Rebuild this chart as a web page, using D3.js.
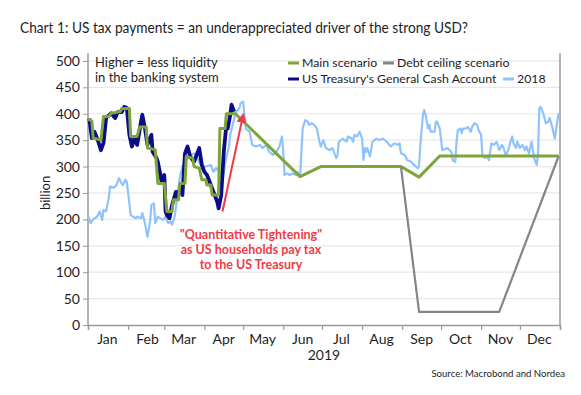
<!DOCTYPE html>
<html>
<head>
<meta charset="utf-8">
<script src="https://cdn.jsdelivr.net/npm/d3@7"></script>
<style>
  body { margin: 0; background: #fff; }
  svg { display: block; font-family: Lato, "Open Sans", sans-serif; }
</style>
</head>
<body>
<div id="chart"></div>
<script>
// values (billion USD)
const yTicks = [0, 50, 100, 150, 200, 250, 300, 350, 400, 450, 500];
const monthLabels = ['Jan', 'Feb', 'Mar', 'Apr', 'May', 'Jun', 'Jul', 'Aug', 'Sep', 'Oct', 'Nov', 'Dec'];

const treasury = [
    ['2019-01-02', 391], ['2019-01-04', 354], ['2019-01-06', 366], ['2019-01-09', 347], ['2019-01-11', 331],
    ['2019-01-13', 345], ['2019-01-15', 392], ['2019-01-19', 401], ['2019-01-22', 392], ['2019-01-24', 403],
    ['2019-01-27', 403], ['2019-01-29', 413], ['2019-01-31', 411], ['2019-02-02', 360], ['2019-02-04', 338],
    ['2019-02-06', 354], ['2019-02-08', 341], ['2019-02-11', 385], ['2019-02-12', 398], ['2019-02-14', 373],
    ['2019-02-16', 341], ['2019-02-19', 360], ['2019-02-20', 328], ['2019-02-23', 316], ['2019-02-24', 309],
    ['2019-02-27', 271], ['2019-03-01', 284], ['2019-03-02', 215], ['2019-03-03', 208], ['2019-03-05', 202],
    ['2019-03-07', 227], ['2019-03-10', 252], ['2019-03-11', 240], ['2019-03-14', 265], ['2019-03-15', 246],
    ['2019-03-17', 325], ['2019-03-19', 338], ['2019-03-21', 319], ['2019-03-24', 309], ['2019-03-26', 322],
    ['2019-03-28', 335], ['2019-03-30', 303], ['2019-04-01', 290], ['2019-04-03', 284], ['2019-04-06', 265],
    ['2019-04-08', 252], ['2019-04-11', 233], ['2019-04-12', 221], ['2019-04-14', 246], ['2019-04-16', 328],
    ['2019-04-18', 379], ['2019-04-19', 372], ['2019-04-21', 398], ['2019-04-22', 417], ['2019-04-24', 404]
];

const mainScenario = [
    ['2019-01-01', 390], ['2019-01-04', 386], ['2019-01-05', 354], ['2019-01-11', 350], ['2019-01-13', 395],
    ['2019-01-17', 395], ['2019-01-19', 401], ['2019-01-26', 404], ['2019-01-27', 410], ['2019-02-02', 410],
    ['2019-02-03', 357], ['2019-02-08', 357], ['2019-02-10', 375], ['2019-02-15', 375], ['2019-02-16', 335],
    ['2019-02-22', 332], ['2019-02-24', 268], ['2019-03-01', 268], ['2019-03-03', 215], ['2019-03-07', 215],
    ['2019-03-08', 237], ['2019-03-12', 237], ['2019-03-13', 268], ['2019-03-17', 268], ['2019-03-18', 319],
    ['2019-03-23', 316], ['2019-03-24', 300], ['2019-03-28', 297], ['2019-03-30', 275], ['2019-04-02', 275],
    ['2019-04-03', 265], ['2019-04-06', 265], ['2019-04-07', 246], ['2019-04-12', 246], ['2019-04-13', 372],
    ['2019-04-17', 372], ['2019-04-18', 400], ['2019-04-25', 400], ['2019-06-14', 281], ['2019-06-30', 300],
    ['2019-08-31', 300], ['2019-09-14', 280], ['2019-09-30', 320], ['2019-12-31', 320]
];

const debtCeiling = [
    ['2019-08-31', 300], ['2019-09-14', 25], ['2019-11-15', 25], ['2019-12-31', 320]
];

const year2018 = [
    ['2019-01-01', 208], ['2019-01-03', 193], ['2019-01-05', 200], ['2019-01-08', 205], ['2019-01-10', 215],
    ['2019-01-12', 199], ['2019-01-13', 218], ['2019-01-15', 215], ['2019-01-17', 240], ['2019-01-18', 262],
    ['2019-01-21', 260], ['2019-01-23', 265], ['2019-01-25', 278], ['2019-01-27', 268], ['2019-01-28', 265],
    ['2019-01-30', 275], ['2019-01-31', 271], ['2019-02-02', 230], ['2019-02-03', 208], ['2019-02-05', 205],
    ['2019-02-07', 202], ['2019-02-08', 205], ['2019-02-11', 202], ['2019-02-12', 212], ['2019-02-14', 193],
    ['2019-02-16', 167], ['2019-02-18', 196], ['2019-02-19', 227], ['2019-02-21', 230], ['2019-02-22', 193],
    ['2019-02-24', 205], ['2019-02-26', 202], ['2019-02-28', 199], ['2019-03-02', 205], ['2019-03-04', 193],
    ['2019-03-06', 196], ['2019-03-07', 190], ['2019-03-09', 205], ['2019-03-11', 240], ['2019-03-13', 280],
    ['2019-03-15', 300], ['2019-03-17', 310], ['2019-03-20', 319], ['2019-03-24', 325], ['2019-03-26', 319],
    ['2019-03-29', 303], ['2019-04-02', 300], ['2019-04-06', 303], ['2019-04-08', 290], ['2019-04-10', 297],
    ['2019-04-13', 290], ['2019-04-15', 271], ['2019-04-17', 306], ['2019-04-20', 338], ['2019-04-21', 360],
    ['2019-04-25', 401], ['2019-04-28', 410], ['2019-04-29', 420], ['2019-05-01', 423], ['2019-05-02', 398],
    ['2019-05-03', 372], ['2019-05-06', 366], ['2019-05-08', 341], ['2019-05-11', 338], ['2019-05-14', 341],
    ['2019-05-16', 335], ['2019-05-19', 341], ['2019-05-21', 328], ['2019-05-24', 322], ['2019-05-26', 325],
    ['2019-05-29', 338], ['2019-05-31', 357], ['2019-06-01', 328], ['2019-06-02', 284], ['2019-06-04', 287],
    ['2019-06-06', 284], ['2019-06-08', 287], ['2019-06-11', 284], ['2019-06-12', 290], ['2019-06-14', 280],
    ['2019-06-16', 372], ['2019-06-18', 388], ['2019-06-20', 385], ['2019-06-21', 379], ['2019-06-23', 382],
    ['2019-06-25', 379], ['2019-06-27', 372], ['2019-06-29', 347], ['2019-06-30', 338], ['2019-07-02', 350],
    ['2019-07-04', 335], ['2019-07-07', 331], ['2019-07-09', 335], ['2019-07-12', 316], ['2019-07-13', 322],
    ['2019-07-14', 347], ['2019-07-17', 353], ['2019-07-20', 347], ['2019-07-21', 357], ['2019-07-24', 353],
    ['2019-07-25', 347], ['2019-07-26', 360], ['2019-07-28', 357], ['2019-07-30', 366], ['2019-08-01', 353],
    ['2019-08-02', 312], ['2019-08-03', 335], ['2019-08-04', 328], ['2019-08-05', 335], ['2019-08-07', 319],
    ['2019-08-09', 347], ['2019-08-12', 353], ['2019-08-14', 350], ['2019-08-17', 353], ['2019-08-20', 347],
    ['2019-08-23', 338], ['2019-08-26', 344], ['2019-08-29', 341], ['2019-08-30', 344], ['2019-08-31', 325],
    ['2019-09-03', 322], ['2019-09-05', 312], ['2019-09-08', 309], ['2019-09-10', 303], ['2019-09-13', 297],
    ['2019-09-14', 300], ['2019-09-15', 341], ['2019-09-17', 398], ['2019-09-18', 407], ['2019-09-19', 398],
    ['2019-09-21', 372], ['2019-09-22', 379], ['2019-09-23', 366], ['2019-09-26', 366], ['2019-09-27', 385],
    ['2019-09-28', 385], ['2019-09-30', 372], ['2019-10-02', 331], ['2019-10-06', 335], ['2019-10-09', 328],
    ['2019-10-10', 312], ['2019-10-12', 309], ['2019-10-13', 347], ['2019-10-14', 369], ['2019-10-16', 372],
    ['2019-10-17', 363], ['2019-10-18', 372], ['2019-10-20', 372], ['2019-10-22', 375], ['2019-10-24', 366],
    ['2019-10-25', 375], ['2019-10-27', 382], ['2019-10-29', 379], ['2019-10-30', 369], ['2019-11-01', 360],
    ['2019-11-02', 322], ['2019-11-04', 316], ['2019-11-06', 319], ['2019-11-07', 312], ['2019-11-09', 344],
    ['2019-11-11', 341], ['2019-11-13', 347], ['2019-11-15', 331], ['2019-11-17', 341], ['2019-11-18', 338],
    ['2019-11-20', 322], ['2019-11-22', 331], ['2019-11-23', 341], ['2019-11-25', 357], ['2019-11-26', 344],
    ['2019-11-28', 335], ['2019-11-29', 347], ['2019-12-01', 335], ['2019-12-03', 341], ['2019-12-05', 331],
    ['2019-12-06', 338], ['2019-12-08', 325], ['2019-12-10', 347], ['2019-12-12', 316], ['2019-12-14', 303],
    ['2019-12-15', 322], ['2019-12-16', 410], ['2019-12-17', 413], ['2019-12-19', 401], ['2019-12-21', 382],
    ['2019-12-23', 385], ['2019-12-24', 392], ['2019-12-26', 375], ['2019-12-28', 353], ['2019-12-30', 388],
    ['2019-12-31', 401]
];

// arrow for the tax-payment annotation: [date, value] start and end
const arrowFrom = ['2019-04-15', 215];
const arrowTo = ['2019-05-01', 398];

const colors = {
    main: '#7da53a',
    debt: '#858585',
    treasury: '#0c0c8a',
    y2018: '#8fc3fc',
    red: '#ef3b47',
    grid: '#e8e8e8',
    axis: '#9a9a9a',
    text: '#1e1e1e'
};

const width = 581, height = 395;
const margin = { top: 53, right: 21, bottom: 70, left: 88 };
const parse = d3.timeParse('%Y-%m-%d');

const svg = d3.select('#chart').append('svg')
    .attr('width', width)
    .attr('height', height);

const x = d3.scaleTime()
    .domain([new Date(2019, 0, 1), new Date(2020, 0, 1)])
    .range([margin.left, width - margin.right]);

const y = d3.scaleLinear()
    .domain([0, 515])
    .range([height - margin.bottom, margin.top]);

// title (the original face is narrower than Lato, so fit it to its width)
svg.append('text')
    .attr('x', 20).attr('y', 33)
    .attr('font-size', 16)
    .attr('textLength', 448)
    .attr('lengthAdjust', 'spacingAndGlyphs')
    .attr('fill', colors.text)
    .text('Chart 1: US tax payments = an underappreciated driver of the strong USD?');

// gridlines
svg.append('g')
    .selectAll('line')
    .data(yTicks.filter(d => d > 0))
    .enter().append('line')
    .attr('x1', margin.left).attr('x2', width - margin.right)
    .attr('y1', d => y(d)).attr('y2', d => y(d))
    .attr('stroke', colors.grid)
    .attr('stroke-width', 1.2);

// y axis
const yAxis = svg.append('g')
    .attr('transform', `translate(${margin.left},0)`)
    .call(d3.axisLeft(y).tickValues(yTicks).tickSize(5).tickPadding(3));
yAxis.select('.domain').remove();
yAxis.selectAll('.tick line').attr('stroke', colors.axis);
yAxis.selectAll('.tick text')
    .attr('font-size', 14)
    .attr('font-family', 'Lato, sans-serif')
    .attr('fill', colors.text);

// frame: left and right verticals, bottom axis line
svg.append('line')
    .attr('x1', margin.left).attr('x2', margin.left)
    .attr('y1', margin.top).attr('y2', y(0))
    .attr('stroke', colors.axis).attr('stroke-width', 1.5);
svg.append('line')
    .attr('x1', width - margin.right).attr('x2', width - margin.right)
    .attr('y1', margin.top).attr('y2', y(0))
    .attr('stroke', colors.axis).attr('stroke-width', 1.5);

// x axis with month ticks and mid-month labels
const xAxis = svg.append('g')
    .attr('transform', `translate(0,${y(0)})`)
    .call(d3.axisBottom(x)
        .tickValues(d3.timeMonth.range(new Date(2019, 0, 1), new Date(2020, 0, 2)))
        .tickSize(5)
        .tickFormat(''));
xAxis.select('.domain').attr('stroke', colors.axis).attr('stroke-width', 1.5);
xAxis.selectAll('.tick line').attr('stroke', colors.axis).attr('stroke-width', 1.2);

svg.append('g')
    .selectAll('text')
    .data(monthLabels)
    .enter().append('text')
    .attr('x', (d, i) => x(new Date(2019, i, 16)))
    .attr('y', y(0) + 19)
    .attr('text-anchor', 'middle')
    .attr('font-size', 14)
    .attr('fill', colors.text)
    .text(d => d);

svg.append('text')
    .attr('x', (margin.left + width - margin.right) / 2)
    .attr('y', y(0) + 35)
    .attr('text-anchor', 'middle')
    .attr('font-size', 14)
    .attr('fill', colors.text)
    .text('2019');

// y axis title
svg.append('text')
    .attr('transform', `translate(50,${y(250)}) rotate(-90)`)
    .attr('text-anchor', 'middle')
    .attr('font-size', 13)
    .attr('fill', colors.text)
    .text('billion');

// series
const line = d3.line()
    .x(d => x(parse(d[0])))
    .y(d => y(d[1]));

const series = [
    { data: year2018, color: colors.y2018, width: 2.2 },
    { data: treasury, color: colors.treasury, width: 3.8 },
    { data: mainScenario, color: colors.main, width: 3 },
    { data: debtCeiling, color: colors.debt, width: 2.2 }
];

svg.append('g')
    .selectAll('path')
    .data(series)
    .enter().append('path')
    .attr('d', d => line(d.data))
    .attr('fill', 'none')
    .attr('stroke', d => d.color)
    .attr('stroke-width', d => d.width)
    .attr('stroke-linejoin', 'round');

// annotation arrow
svg.append('defs').append('marker')
    .attr('id', 'arrowhead')
    .attr('viewBox', '0 0 10 10')
    .attr('refX', 8).attr('refY', 5)
    .attr('markerWidth', 5).attr('markerHeight', 5)
    .attr('orient', 'auto')
    .append('path')
    .attr('d', 'M0,0 L10,5 L0,10 Z')
    .attr('fill', colors.red);

svg.append('line')
    .attr('x1', x(parse(arrowFrom[0]))).attr('y1', y(arrowFrom[1]))
    .attr('x2', x(parse(arrowTo[0]))).attr('y2', y(arrowTo[1]))
    .attr('stroke', colors.red)
    .attr('stroke-width', 2)
    .attr('marker-end', 'url(#arrowhead)');

const noteLines = ['"Quantitative Tightening"', 'as US households pay tax', 'to the US Treasury'];
svg.append('g')
    .selectAll('text')
    .data(noteLines)
    .enter().append('text')
    .attr('x', 251)
    .attr('y', (d, i) => 239 + i * 15)
    .attr('text-anchor', 'middle')
    .attr('font-size', 12.5)
    .attr('font-weight', 'bold')
    .attr('fill', colors.red)
    .text(d => d);

// "Higher = less liquidity" note
['Higher = less liquidity', 'in the banking system'].forEach((t, i) => {
    svg.append('text')
        .attr('x', 95)
        .attr('y', 67 + i * 15)
        .attr('font-size', 13)
        .attr('fill', colors.text)
        .text(t);
});

// legend
const legend = [
    { label: 'Main scenario', color: colors.main, x: 288, y: 63 },
    { label: 'Debt ceiling scenario', color: colors.debt, x: 383, y: 63 },
    { label: "US Treasury's General Cash Account", color: colors.treasury, x: 288, y: 79 },
    { label: '2018', color: colors.y2018, x: 503, y: 79 }
];

const lg = svg.append('g')
    .selectAll('g')
    .data(legend)
    .enter().append('g')
    .attr('transform', d => `translate(${d.x},${d.y})`);

lg.append('line')
    .attr('x1', 0).attr('x2', 11)
    .attr('stroke', d => d.color)
    .attr('stroke-width', 3);

lg.append('text')
    .attr('x', 14)
    .attr('dy', '0.35em')
    .attr('font-size', 12.3)
    .attr('fill', colors.text)
    .text(d => d.label);

// source
svg.append('text')
    .attr('x', 565).attr('y', 377)
    .attr('text-anchor', 'end')
    .attr('font-size', 9.6)
    .attr('fill', colors.text)
    .text('Source: Macrobond and Nordea');
</script>
</body>
</html>
